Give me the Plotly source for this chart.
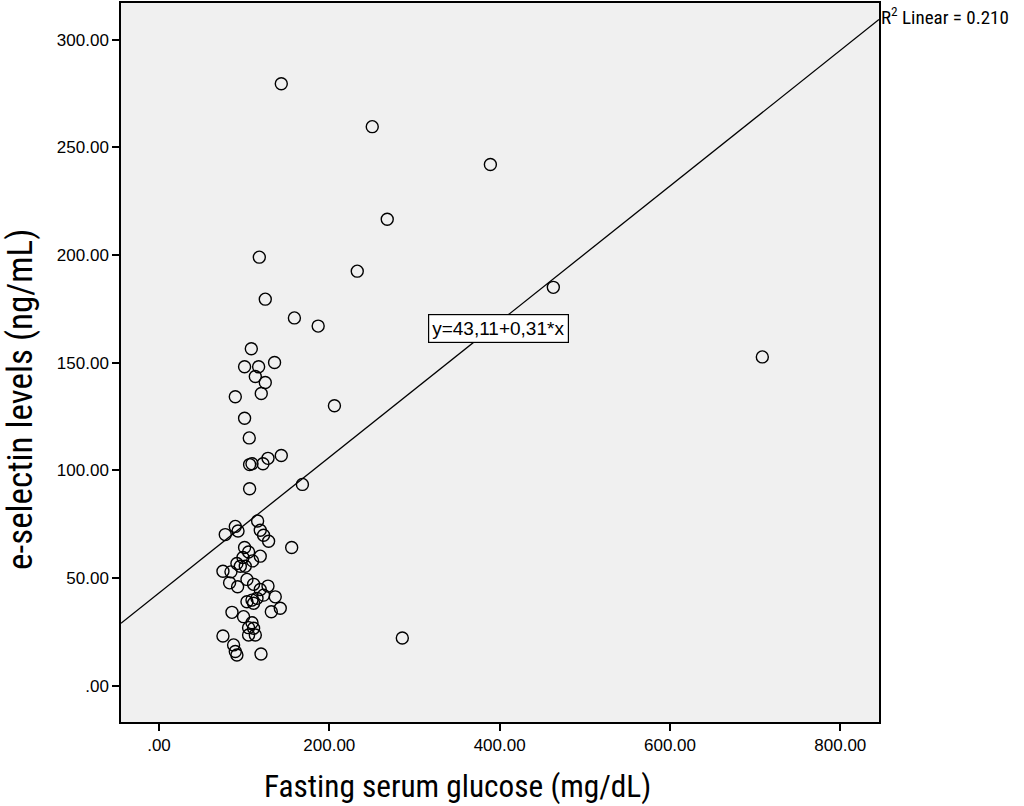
import plotly.graph_objs as go

# fasting serum glucose (mg/dL) vs e-selectin (ng/mL)
glucose = [143.6, 250.4, 389.1, 268.0, 232.8, 117.8, 463.0, 124.8, 159.0, 186.9,
           708.4, 206.0, 168.4, 155.8, 285.7,
           108.4, 100.5, 117.0, 135.7, 113.1, 124.8, 120.1, 89.6, 100.5, 106.0,
           106.4, 109.2, 122.1, 128.0, 143.6, 106.4,
           77.8, 89.6, 92.8, 115.8, 118.9, 122.8, 128.7, 100.5, 105.2, 98.6,
           118.9, 109.9, 91.5, 95.5, 101.3, 75.1, 84.5, 82.9, 92.3, 103.3,
           111.1, 118.9, 128.0, 136.5, 122.8, 115.1, 109.2, 103.3, 111.1, 142.4,
           131.9, 85.7, 99.3, 109.2, 105.2, 111.1, 105.2, 113.1, 75.1, 87.6,
           89.6, 91.5, 119.8]
eselectin = [279.5, 259.6, 242.0, 216.6, 192.5, 199.0, 185.0, 179.5, 170.8, 167.0,
             152.7, 130.0, 93.5, 64.2, 22.2,
             156.5, 148.1, 148.1, 150.1, 143.6, 140.8, 135.7, 134.2, 124.2, 115.1,
             102.7, 103.1, 103.1, 105.6, 106.9, 91.5,
             70.2, 74.0, 71.9, 76.5, 72.2, 69.9, 67.1, 64.2, 62.1, 59.6,
             60.2, 58.0, 56.8, 55.5, 55.5, 53.2, 52.9, 47.8, 46.0, 49.4,
             47.1, 44.7, 46.3, 41.3, 42.1, 40.6, 39.8, 39.0, 38.3, 36.0,
             34.4, 34.1, 32.1, 29.3, 27.0, 26.7, 23.6, 23.6, 23.1, 19.0,
             15.9, 14.3, 14.8]

intercept = 43.11
slope = 0.3149
x_range = [-44.6, 845.4]
y_range = [-16.8, 317.0]

x_ticks = [0, 200, 400, 600, 800]
x_labels = ['.00', '200.00', '400.00', '600.00', '800.00']
y_ticks = [0, 50, 100, 150, 200, 250, 300]
y_labels = ['.00', '50.00', '100.00', '150.00', '200.00', '250.00', '300.00']

fit_x = x_range
fit_y = [intercept + slope * v for v in fit_x]

pts = go.Scatter(x=glucose, y=eselectin, mode='markers',
                 marker=dict(symbol='circle-open', size=12, color='black',
                             line=dict(width=1.4, color='black')),
                 hoverinfo='x+y', showlegend=False)
fit = go.Scatter(x=fit_x, y=fit_y, mode='lines',
                 line=dict(color='black', width=1.3),
                 hoverinfo='skip', showlegend=False)

fig = go.Figure(data=[fit, pts])

sans = 'Liberation Sans, Arial, sans-serif'
narrow = 'Liberation Sans Narrow, Roboto Condensed, Arial Narrow, sans-serif'
tick_font = dict(family=sans, size=17, color='black')

fig.update_layout(
    width=1024, height=806,
    margin=dict(l=121, r=145, t=1, b=84),
    paper_bgcolor='white',
    plot_bgcolor='#f0f0f0',
    xaxis=dict(range=x_range, tickvals=x_ticks, ticktext=x_labels,
               ticks='outside', ticklen=7, tickwidth=2, tickcolor='black',
               showline=True, linecolor='black', linewidth=1.5, mirror=True,
               showgrid=False, zeroline=False, tickfont=tick_font),
    yaxis=dict(range=y_range, tickvals=y_ticks, ticktext=y_labels,
               ticks='outside', ticklen=7, tickwidth=2, tickcolor='black',
               showline=True, linecolor='black', linewidth=1.5, mirror=True,
               showgrid=False, zeroline=False, tickfont=tick_font),
    annotations=[
        # axis titles placed as annotations, they sit off-centre in the original
        dict(x=0.444, y=0, xref='paper', yref='paper', xanchor='center', yanchor='middle',
             yshift=-64, text='Fasting serum glucose (mg/dL)', showarrow=False, borderpad=0,
             font=dict(family=narrow, size=31.3, color='black')),
        dict(x=0, y=0.448, xref='paper', yref='paper', xanchor='center', yanchor='middle',
             xshift=-100, textangle=-90, text='e-selectin levels (ng/mL)', showarrow=False,
             borderpad=0, font=dict(family=narrow, size=35, color='black')),
        dict(x=398.4, y=166.1, xref='x', yref='y', text='y=43,11+0,31*x',
             showarrow=False, bgcolor='white', bordercolor='black', borderwidth=1.2,
             borderpad=3, font=dict(family=sans, size=19, color='black')),
        dict(x=1, y=1, xref='paper', yref='paper', xanchor='left', yanchor='top',
             text='R<sup>2</sup> Linear = 0.210', showarrow=False, xshift=0, yshift=1,
             font=dict(family=narrow, size=19, color='black')),
    ],
)

fig.write_html("out.html", config={'displayModeBar': False},
               post_script="document.body.style.margin='0px';")
